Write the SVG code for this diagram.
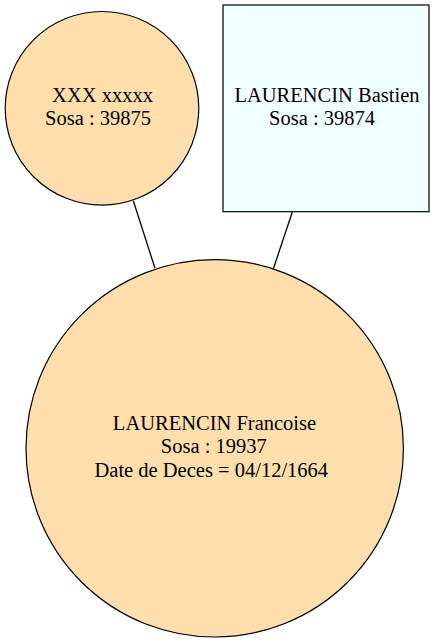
<svg xmlns="http://www.w3.org/2000/svg" width="435" height="642" viewBox="0 0 435 642">
<style>
.n{stroke:#000;stroke-width:1.2}
.c{fill:#ffdead}
.r{fill:#f0ffff}
.t{font-family:"Liberation Serif","DejaVu Serif","Noto Serif",Tinos,"Times New Roman",Times,serif;font-size:20.5px;fill:#000;text-anchor:middle}
.e{stroke:#000;stroke-width:1.3;fill:none}
</style>
<rect width="435" height="642" fill="#fff"/>
<g id="connectors">
<line class="e" x1="133.3" y1="200.7" x2="155" y2="268.3"/>
<line class="e" x1="292.3" y1="212" x2="273.3" y2="269"/>
</g>
<g id="node-39875">
<circle class="n c" cx="102" cy="108.3" r="96.8"/>
<text class="t" x="102.5" y="101.5">XXX xxxxx</text>
<text class="t" x="98" y="125">Sosa : 39875</text>
</g>
<g id="node-39874">
<rect class="n r" x="223" y="5" width="206" height="206.7"/>
<text class="t" x="327" y="101.7">LAURENCIN Bastien</text>
<text class="t" x="322" y="124.5">Sosa : 39874</text>
</g>
<g id="node-19937">
<circle class="n c" cx="214.7" cy="448.3" r="188.7"/>
<text class="t" x="214.5" y="429.8">LAURENCIN Francoise</text>
<text class="t" x="213.8" y="453.2">Sosa : 19937</text>
<text class="t" x="211.3" y="477">Date de Deces = 04/12/1664</text>
</g>
</svg>
